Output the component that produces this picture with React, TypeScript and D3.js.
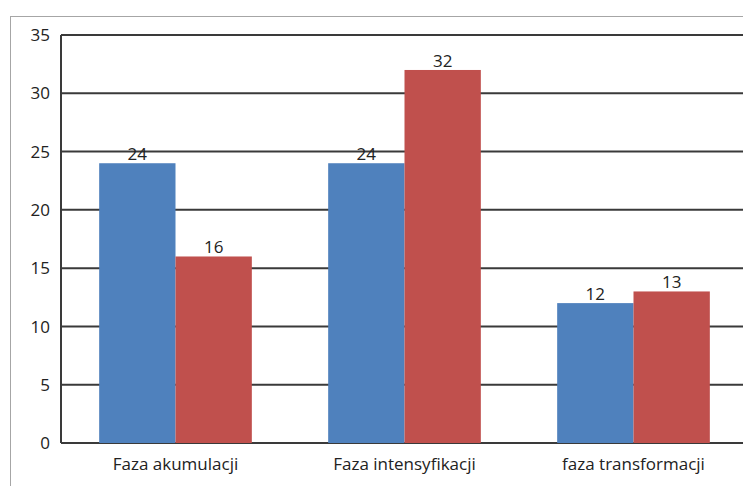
import React from "react";
import * as d3 from "d3";

const categories = ["Faza akumulacji", "Faza intensyfikacji", "faza transformacji"];
const seriesA = [24, 24, 12];
const seriesB = [16, 32, 13];
const yTicks = [0, 5, 10, 15, 20, 25, 30, 35];

const W = 743;
const H = 486;
const plot = { left: 61, top: 35, right: 748, bottom: 443 };
const colors = ["#4F81BD", "#C0504D"];
const font = "'Open Sans', sans-serif";

const App = () => {
  const x = d3
    .scaleBand<string>()
    .domain(categories)
    .range([plot.left, plot.right])
    .paddingInner(1 / 3)
    .paddingOuter(1 / 6);
  const y = d3.scaleLinear().domain([0, 35]).range([plot.bottom, plot.top]);
  const series = [seriesA, seriesB];
  const sub = d3
    .scaleBand<number>()
    .domain([0, 1])
    .range([0, x.bandwidth()]);

  return (
    <svg
      width={W}
      height={H}
      style={{ position: "absolute", left: 0, top: 0, background: "#fff" }}
      fontFamily={font}
    >
      <rect x={10.5} y={16.5} width={W + 10} height={H + 10} fill="none" stroke="#a6a6a6" strokeWidth={1} />
      {yTicks.map(t => (
        <g key={t}>
          <line x1={plot.left} x2={plot.right} y1={y(t)} y2={y(t)} stroke="#3a3a3a" strokeWidth={2} />
          <text x={50} y={y(t)} dy="0.36em" textAnchor="end" fontSize={17} fill="#222">
            {t}
          </text>
        </g>
      ))}
      <line x1={plot.left} x2={plot.left} y1={plot.top} y2={plot.bottom} stroke="#3a3a3a" strokeWidth={2} />
      {categories.map((c, i) => (
        <g key={c}>
          {series.map((s, j) => {
            const bx = (x(c) as number) + (sub(j) as number);
            return (
              <g key={j}>
                <rect
                  x={bx}
                  y={y(s[i])}
                  width={sub.bandwidth()}
                  height={plot.bottom - y(s[i])}
                  fill={colors[j]}
                />
                <text
                  x={bx + sub.bandwidth() / 2}
                  y={y(s[i]) - 3}
                  textAnchor="middle"
                  fontSize={17}
                  fill="#222"
                >
                  {s[i]}
                </text>
              </g>
            );
          })}
          <text
            x={(x(c) as number) + x.bandwidth() / 2}
            y={470}
            textAnchor="middle"
            fontSize={17}
            fill="#222"
          >
            {c}
          </text>
        </g>
      ))}
    </svg>
  );
};

export default App;
